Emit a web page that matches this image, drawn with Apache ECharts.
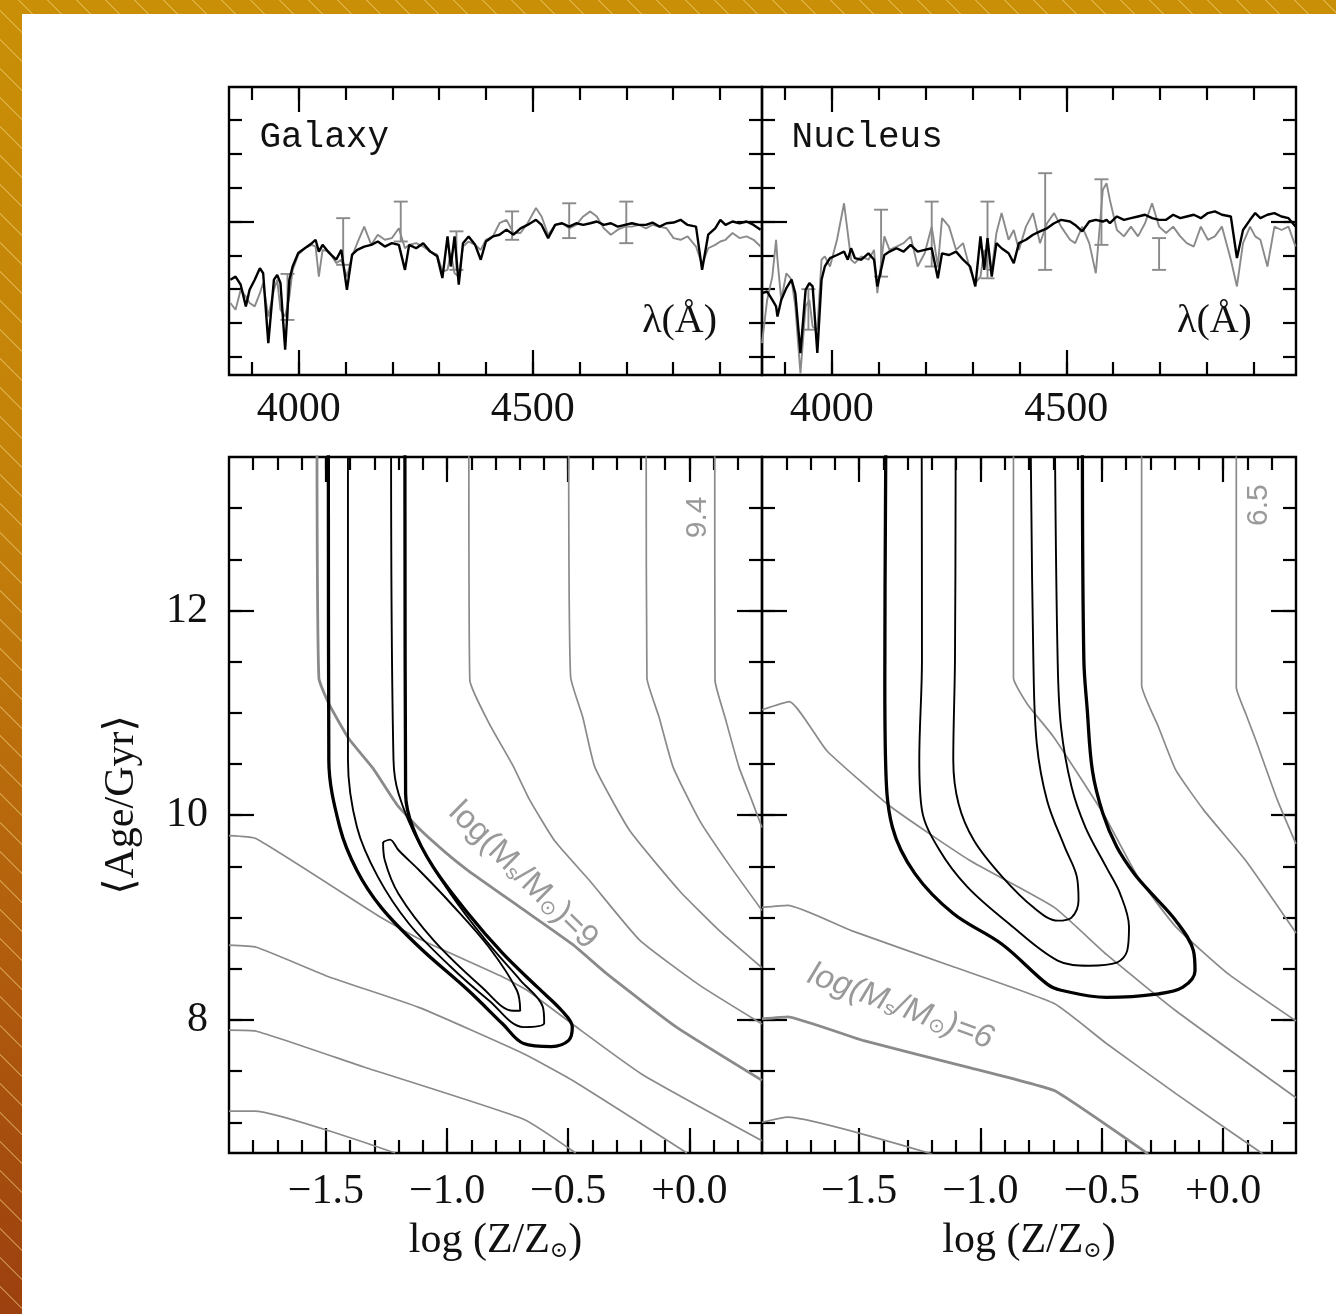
<!DOCTYPE html>
<html>
<head>
<meta charset="utf-8">
<script src="https://cdn.jsdelivr.net/npm/echarts@6/dist/echarts.min.js"></script>
<style>
html,body{margin:0;padding:0;}
body{width:1336px;height:1314px;overflow:hidden;position:relative;
background:
repeating-linear-gradient(45deg, rgba(255,230,150,0) 0px, rgba(255,230,150,0) 19px, rgba(250,220,140,0.4) 19px, rgba(250,220,140,0.4) 20.5px),
linear-gradient(180deg,#c98f06 0%,#c3800a 40%,#b3600d 70%,#9c400f 100%);}
#paper{position:absolute;left:22px;top:14px;width:1314px;height:1300px;background:#fff;}
#chart{position:absolute;left:0;top:0;width:1336px;height:1314px;}
</style>
</head>
<body>
<div id="paper"></div>
<div id="chart"></div>
<script>
// ---------------- DATA ----------------
// Spectra (wavelength in Angstrom, normalised flux)
const GAL_LAM = [3854,3865,3876,3887,3895,3906,3917,3924,3935,3947,3954,3961,3971,3980,3987,3999,4013,4028,4036,4043,4051,4065,4080,4091,4103,4114,4125,4140,4155,4169,4184,4199,4214,4227,4236,4251,4266,4281,4296,4307,4318,4325,4333,4342,4351,4363,4377,4389,4400,4415,4429,4444,4459,4474,4489,4507,4519,4533,4548,4563,4578,4593,4608,4623,4637,4652,4667,4682,4697,4712,4727,4742,4756,4771,4786,4801,4816,4831,4849,4862,4875,4890,4901,4912,4927,4942,4957,4972,4987];
const GAL_BLACK = [0.828,0.837,0.813,0.749,0.798,0.828,0.862,0.847,0.640,0.828,0.842,0.818,0.621,0.828,0.867,0.907,0.921,0.936,0.946,0.911,0.931,0.907,0.887,0.916,0.798,0.902,0.916,0.926,0.931,0.941,0.926,0.936,0.931,0.857,0.931,0.921,0.936,0.911,0.897,0.833,0.956,0.867,0.956,0.813,0.936,0.956,0.931,0.887,0.941,0.956,0.961,0.976,0.961,0.980,0.990,1.005,0.990,0.951,0.990,0.995,0.985,0.995,0.990,0.995,1.000,0.990,0.995,0.985,0.990,0.995,0.990,0.990,0.997,0.985,0.995,0.997,1.005,0.990,0.985,0.857,0.961,0.980,1.005,0.990,1.000,0.995,1.000,0.990,0.976];
const GAL_GREY = [0.759,0.739,0.798,0.778,0.759,0.749,0.788,0.818,0.719,0.798,0.828,0.739,0.719,0.778,0.857,0.902,0.921,0.931,0.926,0.837,0.916,0.911,0.877,0.887,0.837,0.897,0.936,0.985,0.931,0.961,0.946,0.951,0.980,0.921,0.931,0.936,0.926,0.911,0.902,0.852,0.857,0.907,0.847,0.837,0.926,0.941,0.931,0.916,0.946,0.956,0.995,1.005,0.966,0.966,0.995,1.040,1.015,0.961,0.990,0.995,0.980,0.990,1.015,1.030,1.015,0.980,0.961,0.976,0.985,0.985,0.990,0.980,0.990,0.985,0.980,0.951,0.946,0.956,0.926,0.872,0.921,0.931,0.941,0.946,0.966,0.951,0.956,0.946,0.926];
const GAL_ERR_LAM = [3976,4095,4218,4337,4456,4578,4700];
const GAL_ERR_LO = [0.709,0.872,0.941,0.857,0.946,0.951,0.936];
const GAL_ERR_HI = [0.845,1.010,1.059,0.971,1.030,1.054,1.059];

const NUC_LAM = [3851,3862,3873,3881,3884,3892,3903,3914,3922,3933,3944,3952,3959,3969,3978,3985,3996,4011,4026,4034,4041,4049,4063,4078,4090,4097,4112,4123,4138,4153,4168,4183,4198,4213,4226,4235,4250,4265,4280,4295,4306,4317,4325,4332,4341,4351,4362,4377,4388,4399,4414,4429,4444,4459,4474,4489,4508,4519,4534,4549,4563,4578,4586,4593,4608,4623,4638,4653,4668,4683,4698,4713,4728,4743,4757,4772,4787,4802,4817,4832,4851,4864,4877,4892,4903,4914,4929,4944,4959,4974,4989];
const NUC_BLACK = [0.788,0.793,0.768,0.749,0.719,0.768,0.803,0.828,0.788,0.611,0.798,0.818,0.808,0.611,0.828,0.867,0.892,0.901,0.911,0.887,0.921,0.892,0.887,0.906,0.887,0.808,0.901,0.911,0.921,0.911,0.931,0.911,0.916,0.921,0.832,0.906,0.901,0.911,0.887,0.867,0.808,0.956,0.857,0.951,0.837,0.936,0.921,0.906,0.877,0.936,0.946,0.961,0.971,0.980,0.995,1.005,1.000,0.990,0.971,1.000,1.005,1.000,1.005,0.995,1.015,1.005,1.010,1.015,1.020,1.010,1.005,1.005,1.020,1.010,1.015,1.020,1.010,1.025,1.030,1.020,1.015,0.892,0.975,1.005,1.025,1.010,1.020,1.025,1.015,1.010,0.985];
const NUC_GREY = [0.640,0.768,0.837,0.946,0.887,0.768,0.847,0.828,0.749,0.551,0.749,0.768,0.689,0.680,0.887,0.897,0.867,0.946,1.054,0.966,0.887,0.877,0.897,0.887,0.916,0.788,0.956,0.916,0.926,0.936,0.956,0.867,0.906,0.985,0.867,1.010,0.985,0.916,0.936,0.857,0.818,0.837,0.916,0.857,0.857,0.966,1.025,0.946,0.975,0.916,0.985,1.025,0.936,0.995,1.025,0.985,0.946,0.936,0.985,0.936,0.847,1.094,1.113,1.064,0.975,0.956,0.985,0.956,0.995,1.054,0.985,0.966,0.985,0.956,0.936,0.926,0.985,0.946,0.956,0.985,0.887,0.808,0.936,0.985,0.956,0.946,0.867,0.985,0.975,0.985,0.926];
const NUC_ERR_LAM = [3950,4105,4213,4332,4455,4575,4698];
const NUC_ERR_LO = [0.680,0.837,0.867,0.832,0.857,0.931,0.857];
const NUC_ERR_HI = [0.800,1.035,1.059,1.059,1.143,1.125,0.951];

// Galaxy: iso-mass lines log(Ms/Msun) [log Z/Zsun, Age/Gyr]
const GAL_M94 = [[0.105,13.6],[0.106,11.32],[0.147,10.96],[0.205,10.47],[0.257,10.15],[0.30,9.88]];
const GAL_M93 = [[-0.178,13.6],[-0.175,11.34],[-0.125,10.96],[-0.067,10.47],[0.042,9.95],[0.166,9.51],[0.30,9.07]];
const GAL_M92 = [[-0.498,13.6],[-0.490,11.35],[-0.440,10.96],[-0.390,10.47],[-0.246,9.85],[-0.040,9.26],[0.125,8.87],[0.30,8.51]];
const GAL_M91 = [[-0.910,13.6],[-0.906,11.32],[-0.827,10.90],[-0.727,10.48],[-0.659,10.15],[-0.556,9.75],[-0.411,9.36],[-0.205,8.78],[0.042,8.34],[0.30,7.96]];
const GAL_M90 = [[-1.537,13.6],[-1.529,11.34],[-1.488,11.09],[-1.406,10.75],[-1.306,10.46],[-1.206,10.10],[-1.107,9.85],[-1.008,9.64],[-0.913,9.46],[-0.698,9.10],[-0.483,8.74],[-0.340,8.45],[-0.053,7.93],[0.30,7.41]];
const GAL_M89 = [[-1.9,9.80],[-1.787,9.77],[-1.286,9.02],[-1.114,8.79],[-0.770,8.42],[-0.670,8.29],[-0.483,7.96],[-0.196,7.47],[0.30,6.82]];
const GAL_M88 = [[-1.9,8.73],[-1.787,8.71],[-1.486,8.42],[-1.114,8.12],[-0.684,7.67],[-0.483,7.41],[-0.010,6.70]];
const GAL_M87 = [[-1.9,7.90],[-1.787,7.89],[-1.343,7.54],[-0.684,7.03],[-0.469,6.70]];
const GAL_M86 = [[-1.9,7.11],[-1.795,7.11],[-1.214,6.70]];
// Galaxy: confidence contours
const GAL_C_OUT = [[-1.490,13.6],[-1.488,10.54],[-1.443,9.885],[-1.372,9.46],[-1.272,9.10],[-1.114,8.71],[-0.913,8.29],[-0.770,7.96],[-0.684,7.77],[-0.569,7.74],[-0.498,7.80],[-0.483,7.93],[-0.526,8.09],[-0.627,8.32],[-0.770,8.65],[-0.913,9.04],[-1.056,9.49],[-1.142,9.885],[-1.171,10.21],[-1.174,13.6]];
const GAL_C_MID = [[-1.409,13.6],[-1.409,10.54],[-1.372,9.885],[-1.286,9.40],[-1.157,8.94],[-0.985,8.52],[-0.827,8.19],[-0.684,7.93],[-0.599,7.97],[-0.605,8.13],[-0.698,8.39],[-0.841,8.78],[-0.985,9.23],[-1.114,9.72],[-1.200,10.21],[-1.221,10.54],[-1.231,13.6]];
const GAL_C_IN = [[-1.264,9.738],[-1.236,9.762],[-1.200,9.658],[-1.114,9.46],[-0.985,9.14],[-0.827,8.71],[-0.712,8.29],[-0.698,8.09],[-0.727,8.09],[-0.856,8.32],[-1.056,8.78],[-1.200,9.23],[-1.257,9.56],[-1.264,9.738]];

// Nucleus: iso-mass lines
const NUC_M65 = [[0.054,13.6],[0.054,11.25],[0.095,10.98],[0.135,10.73],[0.223,10.15],[0.30,9.72]];
const NUC_M64 = [[-0.336,13.6],[-0.336,11.27],[-0.266,10.86],[-0.195,10.44],[-0.080,10.05],[0.092,9.56],[0.30,8.85]];
const NUC_M63 = [[-0.864,13.6],[-0.864,11.34],[-0.808,11.09],[-0.700,10.77],[-0.600,10.41],[-0.490,10.00],[-0.352,9.40],[-0.195,8.91],[0.021,8.45],[0.30,7.99]];
const NUC_M62 = [[-1.9,11.03],[-1.787,11.11],[-1.633,10.63],[-1.368,10.08],[-1.045,9.56],[-0.696,9.10],[-0.481,8.64],[-0.195,8.09],[0.30,7.24]];
const NUC_M61 = [[-1.9,9.10],[-1.794,9.12],[-1.529,8.87],[-1.112,8.52],[-0.696,8.16],[-0.481,7.77],[-0.195,7.28],[0.164,6.69]];
const NUC_M60 = [[-1.9,8.01],[-1.794,8.03],[-1.485,7.80],[-1.054,7.54],[-0.696,7.31],[-0.309,6.69]];
const NUC_M59 = [[-1.9,7.00],[-1.794,7.05],[-1.199,6.69]];
// Nucleus: confidence contours
const NUC_C_OUT = [[-1.390,13.6],[-1.394,11.34],[-1.391,10.54],[-1.363,9.885],[-1.270,9.43],[-1.112,9.04],[-0.911,8.74],[-0.725,8.35],[-0.668,8.29],[-0.481,8.22],[-0.266,8.255],[-0.166,8.32],[-0.116,8.48],[-0.123,8.68],[-0.195,8.97],[-0.309,9.27],[-0.367,9.43],[-0.438,9.69],[-0.496,10.02],[-0.539,10.44],[-0.560,11.03],[-0.574,11.52],[-0.580,13.6]];
const NUC_C_MID = [[-1.242,13.6],[-1.241,11.52],[-1.252,10.54],[-1.241,10.05],[-1.169,9.66],[-1.054,9.30],[-0.882,8.94],[-0.682,8.58],[-0.553,8.53],[-0.438,8.56],[-0.395,8.68],[-0.388,8.91],[-0.424,9.23],[-0.481,9.49],[-0.567,9.88],[-0.625,10.28],[-0.668,10.86],[-0.682,11.52],[-0.693,13.6]];
const NUC_C_IN = [[-1.102,13.6],[-1.105,11.52],[-1.112,10.54],[-1.090,10.11],[-1.026,9.75],[-0.911,9.40],[-0.782,9.10],[-0.682,8.97],[-0.625,9.00],[-0.596,9.17],[-0.603,9.40],[-0.653,9.69],[-0.725,10.14],[-0.768,10.70],[-0.782,11.52],[-0.793,13.6]];

// Axis ranges and ticks
const LAM_MIN = 3851, LAM_MAX = 4990;
const FLUX_MIN = 0.546, FLUX_MAX = 1.398;
const Z_MIN = -1.9, Z_MAX = 0.3;
const AGE_MIN = 6.7, AGE_MAX = 13.5;
const LAM_MINOR_TICKS = [3900,4000,4100,4200,4300,4400,4500,4600,4700,4800,4900];
const LAM_LABEL_TICKS = [4000,4500];
const FLUX_MINOR_TICKS = [0.6,0.7,0.8,0.9,1.0,1.1,1.2,1.3];
const FLUX_MAJOR_TICKS = [1.0];
const Z_MINOR_TICKS = [-1.8,-1.7,-1.6,-1.5,-1.4,-1.3,-1.2,-1.1,-1.0,-0.9,-0.8,-0.7,-0.6,-0.5,-0.4,-0.3,-0.2,-0.1,0.0,0.1,0.2];
const Z_LABEL_TICKS = [-1.5,-1.0,-0.5,0.0];
const AGE_MINOR_TICKS = [7,7.5,8,8.5,9,9.5,10,10.5,11,11.5,12,12.5,13];
const AGE_LABEL_TICKS = [8,10,12];

// ---------------- CHART ----------------
const SERIF = '"Liberation Serif", "DejaVu Serif", serif';
const SANS = '"Liberation Sans", "DejaVu Sans", sans-serif';
const MONO = '"Liberation Mono", "DejaVu Sans Mono", monospace';
const GREY = '#8a8a8a';
const LABEL_GREY = '#999999';
const INK = '#111';

const chart = echarts.init(document.getElementById('chart'), null, {renderer: 'canvas'});

const grid = [
  {left: 229, top: 87, width: 533, height: 288},
  {left: 762, top: 87, width: 534, height: 288},
  {left: 229, top: 457, width: 533, height: 696},
  {left: 762, top: 457, width: 534, height: 696}
].map(g => Object.assign(g, {show: true, borderColor: '#000', borderWidth: 2.4, backgroundColor: 'transparent'}));

const xAxis = [], yAxis = [];
function axisSet(list, gi, sides, min, max, minor, major, label, name) {
  const mainIndex = list.length;
  sides.forEach((pos, si) => {
    [[minor, 13], [major, 25]].forEach(([vals, len], k) => {
      const ax = {
        gridIndex: gi, type: 'value', position: pos, min: min, max: max,
        splitLine: {show: false},
        axisLine: {show: false, onZero: false},
        axisTick: {show: true, inside: true, length: len, customValues: vals, lineStyle: {color: '#000', width: 2.2}},
        axisLabel: {show: false},
        silent: true
      };
      if (si === 0 && k === 1 && label) ax.axisLabel = Object.assign({show: true, customValues: major}, label);
      if (si === 0 && k === 1 && name) Object.assign(ax, name);
      list.push(ax);
    });
  });
  return mainIndex;
}

const lamLabel = {formatter: v => String(v), margin: 14, fontFamily: SERIF, fontSize: 42, color: INK};
const zLabel = {formatter: v => (v >= 0 ? '+' : '\u2212') + Math.abs(v).toFixed(1), margin: 18, fontFamily: SERIF, fontSize: 42, color: INK};
const ageLabel = {formatter: v => String(v), margin: 21, fontFamily: SERIF, fontSize: 42, color: INK};
const zName = {
  name: 'log (Z/Z{s|\u2299})', nameLocation: 'middle', nameGap: 67,
  nameTextStyle: {fontFamily: SERIF, fontSize: 42, color: INK,
    rich: {s: {fontFamily: '"DejaVu Serif", serif', fontSize: 22, color: INK, verticalAlign: 'bottom', padding: [16, 0, 0, 0]}}}
};
const ageName = {
  name: '\u27E8Age/Gyr\u27E9', nameLocation: 'middle', nameGap: 86, nameRotate: 90,
  nameTextStyle: {fontFamily: SERIF, fontSize: 42, color: INK}
};

const gx0 = axisSet(xAxis, 0, ['bottom', 'top'], LAM_MIN, LAM_MAX, LAM_MINOR_TICKS, LAM_LABEL_TICKS, lamLabel, null);
const gy0 = axisSet(yAxis, 0, ['left', 'right'], FLUX_MIN, FLUX_MAX, FLUX_MINOR_TICKS, FLUX_MAJOR_TICKS, null, null);
const gx1 = axisSet(xAxis, 1, ['bottom', 'top'], LAM_MIN, LAM_MAX, LAM_MINOR_TICKS, LAM_LABEL_TICKS, lamLabel, null);
const gy1 = axisSet(yAxis, 1, ['left', 'right'], FLUX_MIN, FLUX_MAX, FLUX_MINOR_TICKS, FLUX_MAJOR_TICKS, null, null);
const gx2 = axisSet(xAxis, 2, ['bottom', 'top'], Z_MIN, Z_MAX, Z_MINOR_TICKS, Z_LABEL_TICKS, zLabel, zName);
const gy2 = axisSet(yAxis, 2, ['left', 'right'], AGE_MIN, AGE_MAX, AGE_MINOR_TICKS, AGE_LABEL_TICKS, ageLabel, ageName);
const gx3 = axisSet(xAxis, 3, ['bottom', 'top'], Z_MIN, Z_MAX, Z_MINOR_TICKS, Z_LABEL_TICKS, zLabel, zName);
const gy3 = axisSet(yAxis, 3, ['left', 'right'], AGE_MIN, AGE_MAX, AGE_MINOR_TICKS, AGE_LABEL_TICKS, null, null);

function line(xi, yi, data, color, width, smooth, z) {
  return {type: 'line', xAxisIndex: xi, yAxisIndex: yi, data: data, symbol: 'none', showSymbol: false,
    smooth: smooth || false, lineStyle: {color: color, width: width}, z: z || 2, silent: true, animation: false, clip: true};
}
function pairs(xs, ys) { return xs.map((x, i) => [x, ys[i]]); }
function errRender(params, api) {
  const x = api.value(0);
  const lo = api.coord([x, api.value(1)]);
  const hi = api.coord([x, api.value(2)]);
  const w = 7;
  const st = {stroke: GREY, lineWidth: 1.9};
  return {type: 'group', children: [
    {type: 'line', shape: {x1: lo[0], y1: lo[1], x2: hi[0], y2: hi[1]}, style: st},
    {type: 'line', shape: {x1: lo[0] - w, y1: lo[1], x2: lo[0] + w, y2: lo[1]}, style: st},
    {type: 'line', shape: {x1: hi[0] - w, y1: hi[1], x2: hi[0] + w, y2: hi[1]}, style: st}
  ]};
}
function errSeries(xi, yi, lam, lo, hi) {
  return {type: 'custom', xAxisIndex: xi, yAxisIndex: yi, renderItem: errRender,
    data: lam.map((l, i) => [l, lo[i], hi[i]]), encode: {x: 0, y: [1, 2]}, z: 2, silent: true, animation: false, clip: true};
}

const series = [
  // Galaxy spectrum
  line(gx0, gy0, pairs(GAL_LAM, GAL_GREY), GREY, 1.9, false, 2),
  errSeries(gx0, gy0, GAL_ERR_LAM, GAL_ERR_LO, GAL_ERR_HI),
  line(gx0, gy0, pairs(GAL_LAM, GAL_BLACK), '#000', 2.4, false, 3),
  // Nucleus spectrum
  line(gx1, gy1, pairs(NUC_LAM, NUC_GREY), GREY, 1.9, false, 2),
  errSeries(gx1, gy1, NUC_ERR_LAM, NUC_ERR_LO, NUC_ERR_HI),
  line(gx1, gy1, pairs(NUC_LAM, NUC_BLACK), '#000', 2.4, false, 3)
];
[GAL_M94, GAL_M93, GAL_M92, GAL_M91, GAL_M89, GAL_M88, GAL_M87, GAL_M86].forEach(d => series.push(line(gx2, gy2, d, GREY, 1.7, 0.15, 2)));
series.push(line(gx2, gy2, GAL_M90, GREY, 2.8, 0.15, 2));
series.push(line(gx2, gy2, GAL_C_OUT, '#000', 3.3, 0.35, 4));
series.push(line(gx2, gy2, GAL_C_MID, '#000', 1.9, 0.35, 4));
series.push(line(gx2, gy2, GAL_C_IN, '#000', 1.9, 0.35, 4));
[NUC_M65, NUC_M64, NUC_M63, NUC_M62, NUC_M61, NUC_M59].forEach(d => series.push(line(gx3, gy3, d, GREY, 1.7, 0.15, 2)));
series.push(line(gx3, gy3, NUC_M60, GREY, 2.8, 0.1, 2));
series.push(line(gx3, gy3, NUC_C_OUT, '#000', 3.3, 0.35, 4));
series.push(line(gx3, gy3, NUC_C_MID, '#000', 1.9, 0.35, 4));
series.push(line(gx3, gy3, NUC_C_IN, '#000', 1.9, 0.35, 4));

chart.setOption({
  animation: false,
  backgroundColor: 'transparent',
  grid: grid, xAxis: xAxis, yAxis: yAxis, series: series
});

// ---------------- TEXT ANNOTATIONS (placed through the axes) ----------------
const subRich = {s: {fontFamily: SANS, fontSize: 20, fill: LABEL_GREY, verticalAlign: 'bottom', padding: [12, 0, 0, 0]}};
const notes = [
  {xi: gx0, yi: gy0, at: [3916, 1.248], text: 'Galaxy', font: MONO, size: 36, color: INK, align: 'left'},
  {xi: gx1, yi: gy1, at: [3914, 1.248], text: 'Nucleus', font: MONO, size: 36, color: INK, align: 'left'},
  {xi: gx0, yi: gy0, at: [4894, 0.703], text: '\u03BB(\u00C5)', font: SERIF, size: 40, color: INK, align: 'right'},
  {xi: gx1, yi: gy1, at: [4896, 0.703], text: '\u03BB(\u00C5)', font: SERIF, size: 40, color: INK, align: 'right'},
  {xi: gx2, yi: gy2, at: [0.033, 12.91], text: '9.4', font: SANS, size: 30, color: LABEL_GREY, align: 'center', rot: Math.PI / 2},
  {xi: gx3, yi: gy3, at: [0.145, 13.03], text: '6.5', font: SANS, size: 30, color: LABEL_GREY, align: 'center', rot: Math.PI / 2},
  {xi: gx2, yi: gy2, at: [-0.686, 9.41], text: 'log(M{s|s}/M{s|\u2299})=9', font: SANS, size: 33, color: LABEL_GREY, align: 'center', rot: -0.778, rich: subRich},
  {xi: gx3, yi: gy3, at: [-1.329, 8.13], text: 'log(M{s|s}/M{s|\u2299})=6', font: SANS, size: 33, color: LABEL_GREY, align: 'center', rot: -0.352, rich: subRich, italic: true}
];
const graphic = notes.map(n => {
  const p = chart.convertToPixel({xAxisIndex: n.xi, yAxisIndex: n.yi}, n.at);
  const style = {text: n.text, fontFamily: n.font, fontSize: n.size, fill: n.color, align: n.align, verticalAlign: 'middle'};
  if (n.rich) style.rich = n.rich;
  if (n.italic) style.fontStyle = 'italic';
  return {type: 'text', x: p[0], y: p[1], rotation: n.rot || 0, style: style, z: 10, silent: true};
});
chart.setOption({graphic: graphic});
</script>
</body>
</html>
